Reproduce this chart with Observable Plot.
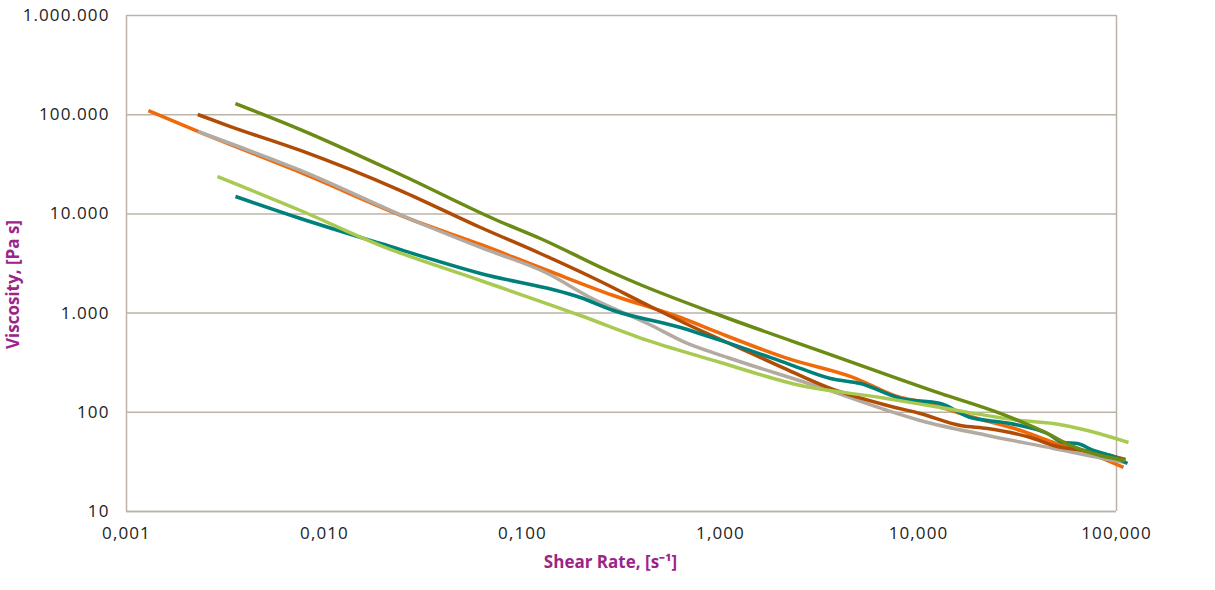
<!DOCTYPE html>
<html>
<head>
<meta charset="utf-8">
<script src="https://cdn.jsdelivr.net/npm/d3@7"></script>
<script src="https://cdn.jsdelivr.net/npm/@observablehq/plot@0.6"></script>
<style>
  html, body { margin: 0; padding: 0; background: #fff; }
  #chart svg { display: block; }
</style>
</head>
<body>
<div id="chart"></div>
<script>
// Shear rate [1/s], viscosity [Pa s]
const seriesOrange = [[0.00129,110200],[0.00236,66200],[0.00756,26150],[0.0282,8580],[0.0614,4915],[0.134,2688],[0.288,1505],[0.628,903],[1.0,623],[2.18,349],[4.70,224],[8.11,141],[10.2,128.5],[18.3,90.7],[32.8,65.5],[48.1,49.6],[71.4,39.3],[108.5,27.8]];
const seriesGrey = [[0.00229,67700],[0.00756,27400],[0.0282,8580],[0.0614,4585],[0.134,2507],[0.220,1437],[0.428,786],[0.681,494],[1.085,357],[3.20,178],[6.97,104.3],[10.2,82.7],[22.3,58.4],[48.1,43.2],[85.9,34.2],[111,31.2]];
const seriesBrown = [[0.00229,100500],[0.00335,76000],[0.00756,43600],[0.0242,17200],[0.0614,7290],[0.123,3990],[0.248,2082],[0.443,1165],[0.792,668],[1.0,542],[2.01,289],[3.59,174],[6.97,117.1],[10.2,97.3],[16.3,73.6],[22.3,68.6],[36.8,55.7],[48.1,46.3],[80.2,39.3],[111,33.4]];
const seriesTeal = [[0.00355,14980],[0.00756,8990],[0.0192,5030],[0.0614,2507],[0.196,1437],[0.288,1062],[0.628,716],[1.0,530],[2.18,310],[3.59,219],[5.09,195],[8.11,138],[12.9,122.7],[18.3,88.6],[29.1,77.1],[44.8,61.1],[54.0,49.6],[63.5,48.5],[76.5,41.2],[93.3,36.7],[113.6,30.5]];
const seriesLightGreen = [[0.00288,23830],[0.00756,10820],[0.0192,4800],[0.0614,2131],[0.196,946],[0.428,530],[1.0,318],[2.54,186],[6.43,141],[12.9,111.8],[32.8,82.7],[48.1,77.1],[71.4,65.5],[115,49.6]];
const seriesOlive = [[0.00355,129700],[0.00756,70900],[0.0242,24950],[0.0747,8580],[0.123,5650],[0.269,2688],[0.381,1988],[1.0,946],[3.59,382],[12.9,155],[25.9,97.3],[44.8,61.1],[58.6,46.3],[83.0,36.7],[111,32.7]];

const seriesNames = ["orange", "grey", "brown", "teal", "lightgreen", "olive"];
const seriesColors = ["#f06a0a", "#b3aba2", "#b04c06", "#00807a", "#a9ca52", "#6b8c14"];
const seriesData = [seriesOrange, seriesGrey, seriesBrown, seriesTeal, seriesLightGreen, seriesOlive];

const xTicks = [0.001, 0.01, 0.1, 1, 10, 100];
const yTicks = [10, 100, 1000, 10000, 100000, 1000000];
const xLabel = "Shear Rate, [s\u207B\u00B9]";
const yLabel = "Viscosity, [Pa s]";

const de = d3.formatLocale({decimal: ",", thousands: ".", grouping: [3], currency: ["", "€"]});
const fmtY = de.format(",d");
const fmtX = de.format(",.3f");

const rows = seriesData.flatMap((s, i) => s.map(([x, y]) => ({series: seriesNames[i], x, y})));

const purple = "#9c2488";
const gridColor = "#bbb3a8";
const textColor = "#222";

const lineMarks = seriesNames.map((name, i) =>
  Plot.line(rows.filter(d => d.series === name), {
    x: "x", y: "y", stroke: seriesColors[i], strokeWidth: 3.5,
    curve: "monotone-x", strokeLinecap: "butt", strokeLinejoin: "round"
  })
);

const chart = Plot.plot({
  width: 1215,
  height: 590,
  marginLeft: 126,
  marginRight: 99,
  marginTop: 15,
  marginBottom: 79,
  style: {fontFamily: "'Open Sans', sans-serif", fontSize: "17px", color: textColor, background: "#fff"},
  x: {type: "log", domain: [0.001, 100], ticks: xTicks, tickFormat: fmtX, label: null},
  y: {type: "log", domain: [10, 1000000], ticks: yTicks, tickFormat: fmtY, label: null},
  marks: [
    Plot.gridY(yTicks, {stroke: gridColor, strokeOpacity: 1, strokeWidth: 1.5}),
    Plot.ruleX([0.001, 100], {stroke: gridColor, strokeWidth: 1.5}),
    Plot.ruleY([10], {stroke: gridColor, strokeWidth: 1.5}),
    Plot.axisX(xTicks, {tickSize: 0, tickPadding: 15, tickFormat: fmtX, label: null, fill: textColor, fontSize: 17}),
    Plot.axisY(yTicks, {tickSize: 0, tickPadding: 17, tickFormat: fmtY, label: null, fill: textColor, fontSize: 17}),
    ...lineMarks,
    Plot.text([xLabel], {frameAnchor: "bottom", textAnchor: "middle", lineAnchor: "middle", dx: -11, dy: 51, text: d => d, fill: purple, fontWeight: "bold", fontSize: 17}),
    Plot.text([yLabel], {frameAnchor: "left", textAnchor: "middle", lineAnchor: "middle", dx: -113, dy: 21, rotate: -90, text: d => d, fill: purple, fontWeight: "bold", fontSize: 17})
  ]
});

d3.select(chart).selectAll("g[aria-label='x-axis tick label'] text, g[aria-label='y-axis tick label'] text")
  .style("letter-spacing", "1.1px");

document.getElementById("chart").appendChild(chart);
</script>
</body>
</html>
